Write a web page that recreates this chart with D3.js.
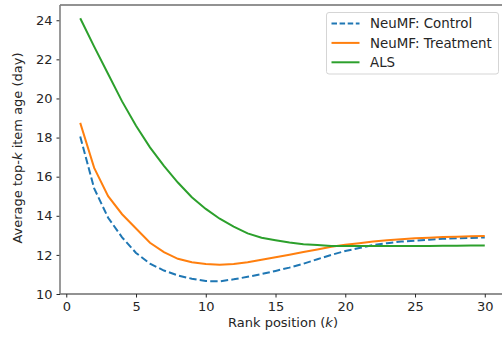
<!DOCTYPE html>
<html>
<head>
<meta charset="utf-8">
<script src="https://cdn.jsdelivr.net/npm/d3@7"></script>
<style>
  body { margin: 0; background: #fff; }
  svg { font-family: "DejaVu Sans", sans-serif; }
</style>
</head>
<body>
<div class="chart"></div>
<script>
// data
const ranks = d3.range(1, 31);
const control = [18.05, 15.4, 13.9, 12.9, 12.1, 11.55, 11.2, 10.95, 10.78, 10.66,
  10.65, 10.75, 10.88, 11.02, 11.18, 11.35, 11.55, 11.78, 12.0, 12.2,
  12.35, 12.5, 12.6, 12.68, 12.73, 12.78, 12.82, 12.85, 12.87, 12.89];
const treatment = [18.75, 16.45, 15.0, 14.08, 13.35, 12.62, 12.14, 11.8, 11.62, 11.53,
  11.5, 11.53, 11.62, 11.75, 11.88, 12.01, 12.15, 12.28, 12.42, 12.52,
  12.6, 12.68, 12.75, 12.8, 12.85, 12.88, 12.91, 12.93, 12.95, 12.97];
const als = [24.1, 22.65, 21.25, 19.85, 18.6, 17.5, 16.55, 15.7, 14.95, 14.35,
  13.85, 13.45, 13.1, 12.88, 12.75, 12.63, 12.55, 12.5, 12.46, 12.45,
  12.45, 12.45, 12.45, 12.46, 12.46, 12.46, 12.47, 12.47, 12.48, 12.48];
const xTicks = [0, 5, 10, 15, 20, 25, 30];
const yTicks = [10, 12, 14, 16, 18, 20, 22, 24];

const series = [
  { name: 'NeuMF: Control', values: control, color: '#1f77b4', dash: '7.4,3.2' },
  { name: 'NeuMF: Treatment', values: treatment, color: '#ff7f0e', dash: null },
  { name: 'ALS', values: als, color: '#2ca02c', dash: null }
];

const W = 502, H = 339;
const margin = { top: 5, right: -3, bottom: 45, left: 60 };

const svg = d3.select('.chart').append('svg')
  .attr('width', W)
  .attr('height', H);

const x = d3.scaleLinear()
  .domain([-0.45, 31.45])
  .range([margin.left, W - margin.right]);
const y = d3.scaleLinear()
  .domain([10, 24.78])
  .range([H - margin.bottom, margin.top]);

// X axis
const xAxis = svg.append('g')
  .attr('transform', `translate(0,${H - margin.bottom})`)
  .call(d3.axisBottom(x).tickValues(xTicks).tickSize(3.5).tickPadding(4));
xAxis.select('.domain').remove();

// Y axis
const yAxis = svg.append('g')
  .attr('transform', `translate(${margin.left},0)`)
  .call(d3.axisLeft(y).tickValues(yTicks).tickSize(3.5).tickPadding(4));
yAxis.select('.domain').remove();

svg.selectAll('.tick text')
  .attr('font-size', '13px')
  .attr('fill', '#262626')
  .attr('font-family', '"DejaVu Sans", sans-serif');
svg.selectAll('.tick line').attr('stroke', '#262626');

// spines
svg.append('line')
  .attr('x1', margin.left).attr('x2', W)
  .attr('y1', margin.top).attr('y2', margin.top)
  .attr('stroke', '#262626').attr('stroke-width', 1.2);
svg.append('line')
  .attr('x1', margin.left).attr('x2', W)
  .attr('y1', H - margin.bottom).attr('y2', H - margin.bottom)
  .attr('stroke', '#262626').attr('stroke-width', 1.2);
svg.append('line')
  .attr('x1', margin.left).attr('x2', margin.left)
  .attr('y1', margin.top).attr('y2', H - margin.bottom)
  .attr('stroke', '#808080').attr('stroke-width', 1.6);

// lines
const line = d3.line()
  .x((d, i) => x(ranks[i]))
  .y(d => y(d));

svg.selectAll('.series')
  .data(series)
  .enter()
  .append('path')
  .attr('class', 'series')
  .attr('d', d => line(d.values))
  .attr('fill', 'none')
  .attr('stroke', d => d.color)
  .attr('stroke-width', 2)
  .attr('stroke-dasharray', d => d.dash);

// legend
const legend = svg.append('g').attr('transform', 'translate(326.5,12.5)');
legend.append('rect')
  .attr('width', 172)
  .attr('height', 61.5)
  .attr('rx', 2.5)
  .attr('fill', '#fff')
  .attr('fill-opacity', 0.8)
  .attr('stroke', '#d5d5d5');
const items = legend.selectAll('.item')
  .data(series)
  .enter()
  .append('g')
  .attr('transform', (d, i) => `translate(0,${11 + i * 19.4})`);
items.append('line')
  .attr('x1', 5).attr('x2', 33)
  .attr('stroke', d => d.color)
  .attr('stroke-width', 2)
  .attr('stroke-dasharray', d => d.dash ? '5.5,2.6' : null);
items.append('text')
  .attr('x', 43.5)
  .attr('dy', '0.36em')
  .attr('font-size', '13.4px')
  .attr('fill', '#262626')
  .text(d => d.name);

// axis labels
svg.append('text')
  .attr('x', 283)
  .attr('y', 327)
  .attr('text-anchor', 'middle')
  .attr('font-size', '13px')
  .attr('fill', '#262626')
  .html('Rank position (<tspan font-style="italic">k</tspan>)');

svg.append('text')
  .attr('transform', 'rotate(-90)')
  .attr('x', -148)
  .attr('y', 22)
  .attr('text-anchor', 'middle')
  .attr('font-size', '13px')
  .attr('fill', '#262626')
  .html('Average top-<tspan font-style="italic">k</tspan> item age (day)');
</script>
</body>
</html>
